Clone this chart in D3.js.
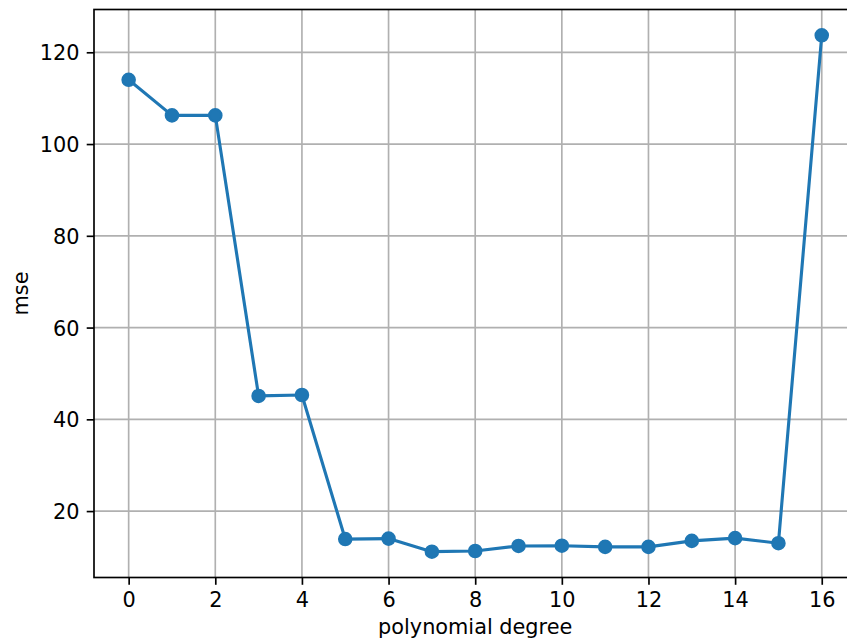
<!DOCTYPE html>
<html>
<head>
<meta charset="utf-8">
<script src="https://cdn.jsdelivr.net/npm/d3@7"></script>
<style>
  html, body { margin: 0; padding: 0; background: #ffffff; }
  svg { display: block; }
  text { font-family: "DejaVu Sans", sans-serif; fill: #000; }
</style>
</head>
<body>
<svg id="chart" width="847" height="643"></svg>
<script>
// Polynomial degree vs. mean squared error
const degrees = [0, 1, 2, 3, 4, 5, 6, 7, 8, 9, 10, 11, 12, 13, 14, 15, 16];
const mse = [114.0, 106.25, 106.25, 45.1, 45.3, 13.9, 14.0, 11.15, 11.3, 12.4, 12.45, 12.2, 12.2, 13.5, 14.1, 13.0, 123.7];
const xTicks = [0, 2, 4, 6, 8, 10, 12, 14, 16];
const yTicks = [20, 40, 60, 80, 100, 120];
const xLabel = "polynomial degree";
const yLabel = "mse";

const W = 847, H = 643;
const plot = { left: 94, right: 856.4, top: 9.5, bottom: 577.5 };
const pt = 150 / 72;          // points to pixels
const fontSize = 10 * pt;
const tickLen = 3.5 * pt, tickPad = 3.5 * pt;
const color = "#1f77b4";

// 5% padding around the data extent on both axes
function padded(ext) {
  const m = (ext[1] - ext[0]) * 0.05;
  return [ext[0] - m, ext[1] + m];
}

const x = d3.scaleLinear().domain(padded(d3.extent(degrees))).range([plot.left, plot.right]);
const y = d3.scaleLinear().domain(padded(d3.extent(mse))).range([plot.bottom, plot.top]);

const svg = d3.select("#chart");
svg.append("rect").attr("width", W).attr("height", H).attr("fill", "#fff");

// grid
const grid = svg.append("g").attr("stroke", "#b0b0b0").attr("stroke-width", 0.8 * pt);
grid.selectAll("line.gx").data(xTicks).join("line").attr("class", "gx")
  .attr("x1", d => x(d)).attr("x2", d => x(d))
  .attr("y1", plot.top).attr("y2", plot.bottom);
grid.selectAll("line.gy").data(yTicks).join("line").attr("class", "gy")
  .attr("x1", plot.left).attr("x2", plot.right)
  .attr("y1", d => y(d)).attr("y2", d => y(d));

// series
const line = d3.line().x((d, i) => x(degrees[i])).y(d => y(d));
svg.append("path").datum(mse)
  .attr("d", line)
  .attr("fill", "none")
  .attr("stroke", color)
  .attr("stroke-width", 1.5 * pt)
  .attr("stroke-linejoin", "round")
  .attr("stroke-linecap", "square");

svg.append("g").selectAll("circle").data(mse).join("circle")
  .attr("cx", (d, i) => x(degrees[i]))
  .attr("cy", d => y(d))
  .attr("r", 3 * pt)
  .attr("fill", color)
  .attr("stroke", color)
  .attr("stroke-width", 1 * pt);

// axes via d3 axis generators
const xAxis = d3.axisBottom(x).tickValues(xTicks).tickFormat(d3.format("d"))
  .tickSizeInner(tickLen).tickSizeOuter(0).tickPadding(tickPad);
const yAxis = d3.axisLeft(y).tickValues(yTicks).tickFormat(d3.format("d"))
  .tickSizeInner(tickLen).tickSizeOuter(0).tickPadding(tickPad);

const gx = svg.append("g").attr("transform", `translate(0,${plot.bottom})`).call(xAxis);
const gy = svg.append("g").attr("transform", `translate(${plot.left},0)`).call(yAxis);
[gx, gy].forEach(g => {
  g.select(".domain").remove();
  g.selectAll(".tick line").attr("stroke", "#000").attr("stroke-width", 0.8 * pt);
  g.selectAll(".tick text")
    .attr("font-family", "DejaVu Sans, sans-serif")
    .attr("font-size", fontSize)
    .attr("fill", "#000");
});
gx.selectAll(".tick text").attr("dy", "0.73em");
gy.selectAll(".tick text").attr("dy", "0.36em");

// spines
const spines = svg.append("g").attr("stroke", "#000").attr("stroke-width", 0.8 * pt)
  .attr("fill", "none").attr("stroke-linecap", "square");
spines.append("rect")
  .attr("x", plot.left).attr("y", plot.top)
  .attr("width", plot.right - plot.left).attr("height", plot.bottom - plot.top);

// axis labels
svg.append("text")
  .attr("x", (plot.left + plot.right) / 2)
  .attr("y", 633.5)
  .attr("text-anchor", "middle")
  .attr("font-size", fontSize)
  .text(xLabel);

svg.append("text")
  .attr("transform", `translate(27.5,${(plot.top + plot.bottom) / 2}) rotate(-90)`)
  .attr("text-anchor", "middle")
  .attr("font-size", fontSize)
  .text(yLabel);
</script>
</body>
</html>
